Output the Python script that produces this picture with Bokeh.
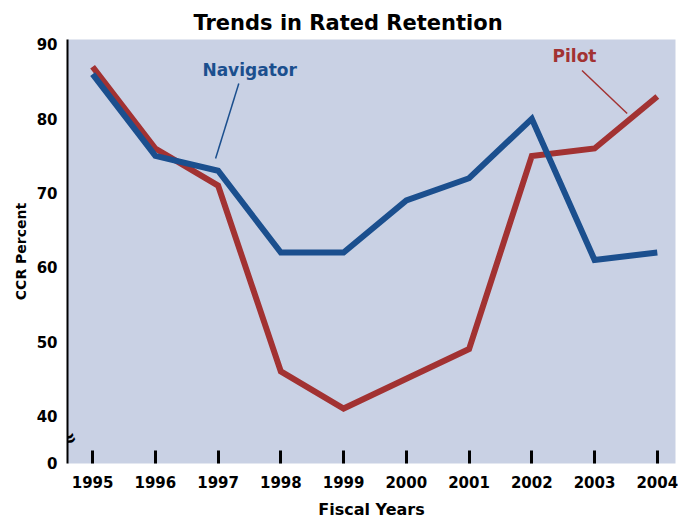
from bokeh.plotting import figure
from bokeh.models import Range1d, FixedTicker, Label, ColumnDataSource
from bokeh.embed import file_html
from bokeh.resources import INLINE

years = [1995, 1996, 1997, 1998, 1999, 2000, 2001, 2002, 2003, 2004]
navigator = [86, 75, 73, 62, 62, 69, 72, 80, 61, 62]
pilot = [87, 76, 71, 46, 41, 45, 49, 75, 76, 83]
y_ticks = [33.7, 40, 50, 60, 70, 80, 90]
y_tick_labels = ["0", "40", "50", "60", "70", "80", "90"]

NAV = "#1b4f8e"
PIL = "#a23232"
BG = "#c9d1e4"

p = figure(width=678, height=521, output_backend="svg", toolbar_location=None,
           x_range=Range1d(1994.60, 2004.29), y_range=Range1d(33.6, 90.67),
           min_border_left=67, min_border_right=3, min_border_top=39, min_border_bottom=58)

p.title.text = "Trends in Rated Retention"
p.title.text_font = "DejaVu Sans"
p.title.text_font_size = "21px"
p.title.text_font_style = "bold"
p.title.align = "left"
p.title.offset = 126
p.title.text_color = "black"

p.background_fill_color = BG
p.border_fill_color = "white"
p.outline_line_color = None
p.xgrid.grid_line_color = None
p.ygrid.grid_line_color = None

# x axis
xa = p.xaxis[0]
xa.ticker = FixedTicker(ticks=years)
xa.axis_line_color = None
xa.major_tick_in = 13
xa.major_tick_out = 0
xa.major_tick_line_width = 3
xa.major_tick_line_color = "black"
xa.minor_tick_line_color = None
xa.major_label_text_font = "DejaVu Sans"
xa.major_label_text_font_style = "bold"
xa.major_label_text_font_size = "15px"
xa.major_label_text_color = "black"
xa.major_label_standoff = 12
xa.axis_label = "Fiscal Years"
xa.axis_label_text_font = "DejaVu Sans"
xa.axis_label_text_font_style = "bold"
xa.axis_label_text_font_size = "16px"
xa.axis_label_text_color = "black"
xa.axis_label_standoff = 9

# y axis
ya = p.yaxis[0]
ya.ticker = FixedTicker(ticks=y_ticks)
ya.major_label_overrides = {t: l for t, l in zip(y_ticks, y_tick_labels)}
ya.axis_line_color = "black"
ya.axis_line_width = 2
ya.major_tick_line_color = None
ya.minor_tick_line_color = None
ya.major_tick_in = 0
ya.major_tick_out = 0
ya.major_label_text_font = "DejaVu Sans"
ya.major_label_text_font_style = "bold"
ya.major_label_text_font_size = "15px"
ya.major_label_text_color = "black"
ya.major_label_standoff = 10
ya.axis_label = "CCR Percent"
ya.axis_label_text_font = "DejaVu Sans"
ya.axis_label_text_font_style = "bold"
ya.axis_label_text_font_size = "14px"
ya.axis_label_text_color = "black"
ya.axis_label_standoff = 5

src = ColumnDataSource(dict(year=years, navigator=navigator, pilot=pilot))
p.line("year", "pilot", source=src, line_color=PIL, line_width=6, line_join="miter")
p.line("year", "navigator", source=src, line_color=NAV, line_width=6, line_join="miter")

# leader lines and labels
p.segment(x0=[1997.33], y0=[84.75], x1=[1996.96], y1=[74.66], line_color=NAV, line_width=1.5)
p.segment(x0=[2002.80], y0=[86.5], x1=[2003.52], y1=[80.7], line_color=PIL, line_width=1.5)

p.add_layout(Label(x=1996.75, y=86.5, text="Navigator", text_color=NAV,
                   text_font="DejaVu Sans", text_font_style="bold", text_font_size="17px",
                   text_baseline="middle", text_align="left"))
p.add_layout(Label(x=2002.33, y=88.4, text="Pilot", text_color=PIL,
                   text_font="DejaVu Sans", text_font_style="bold", text_font_size="17px",
                   text_baseline="middle", text_align="left"))

# axis break mark
p.add_layout(Label(x=1994.6, y=36.9, text="≈", text_color="black", angle=0.4,
                   text_font="DejaVu Sans", text_font_style="bold", text_font_size="22px",
                   text_baseline="middle", text_align="center"))

open("out.html", "w").write(file_html(p, INLINE))
